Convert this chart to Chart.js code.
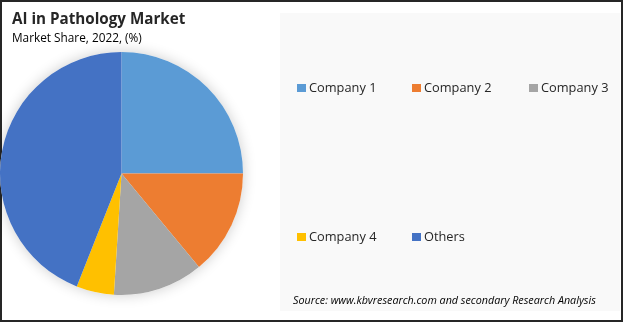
<!DOCTYPE html>
<html>
<head>
<meta charset="utf-8">
<script src="https://cdn.jsdelivr.net/npm/chart.js@4"></script>
<style>
  html, body { margin: 0; padding: 0; background: #fff; }
  #wrap { position: relative; width: 623px; height: 322px; background: #fff; overflow: hidden; }
  #frame { position: absolute; left: 0; top: 0; width: 619px; height: 318px; border: 2px solid #262626; }
  #panel { position: absolute; left: 280px; top: 13px; width: 340px; height: 298px; background: #f9f9f9; }
  #c { position: absolute; left: 0; top: 0; }
</style>
</head>
<body>
<div id="wrap">
  <div id="panel"></div>
  <div id="frame"></div>
  <canvas id="c" width="623" height="322"></canvas>
</div>
<script>
const title = "AI in Pathology Market";
const subtitle = "Market Share, 2022, (%)";
const source = "Source: www.kbvresearch.com and secondary Research Analysis";
const categories = ["Company 1", "Company 2", "Company 3", "Company 4", "Others"];
const shares = [25, 14, 12, 5, 44];
const colors = ["#5B9BD5", "#ED7D31", "#A5A5A5", "#FFC000", "#4472C4"];

const FONT = "'Open Sans', 'Noto Sans', sans-serif";

const decor = {
  id: 'decor',
  beforeDatasetsDraw(chart) {
    const ctx = chart.ctx;
    ctx.save();
    ctx.shadowColor = 'rgba(0,0,0,0.2)';
    ctx.shadowBlur = 14;
    const meta = chart.getDatasetMeta(0);
    const a = meta.data[0];
    ctx.fillStyle = '#ffffff';
    ctx.beginPath();
    ctx.arc(a.x, a.y, a.outerRadius, 0, Math.PI * 2);
    ctx.fill();
    ctx.restore();
  },
  afterDraw(chart) {
    const ctx = chart.ctx;
    ctx.save();
    ctx.textBaseline = 'alphabetic';
    ctx.fillStyle = '#262626';
    ctx.font = "bold 15.2px " + FONT;
    ctx.fillText(title, 12, 24);
    ctx.font = "11.8px " + FONT;
    ctx.fillStyle = '#000';
    ctx.fillText(subtitle, 12, 42);
    // legend
    const pos = [[297, 88], [412, 88], [529, 88], [297, 237], [412, 237]];
    ctx.font = "12.8px " + FONT;
    ctx.textBaseline = 'middle';
    categories.forEach((name, i) => {
      const [x, y] = pos[i];
      ctx.fillStyle = colors[i];
      ctx.fillRect(x, y - 4, 9, 8);
      ctx.fillStyle = '#262626';
      ctx.fillText(name, x + 12, y);
    });
    ctx.font = "italic 10.75px " + FONT;
    ctx.textBaseline = 'alphabetic';
    ctx.fillStyle = '#000';
    ctx.fillText(source, 293, 304);
    ctx.restore();
  }
};

new Chart(document.getElementById('c'), {
  type: 'pie',
  data: {
    labels: categories,
    datasets: [{
      data: shares,
      backgroundColor: colors,
      borderWidth: 0
    }]
  },
  options: {
    responsive: false,
    animation: false,
    layout: { padding: { left: 0, top: 52, right: 380, bottom: 27 } },
    plugins: {
      legend: { display: false },
      tooltip: { enabled: false },
      title: { display: false }
    }
  },
  plugins: [decor]
});
</script>
</body>
</html>
